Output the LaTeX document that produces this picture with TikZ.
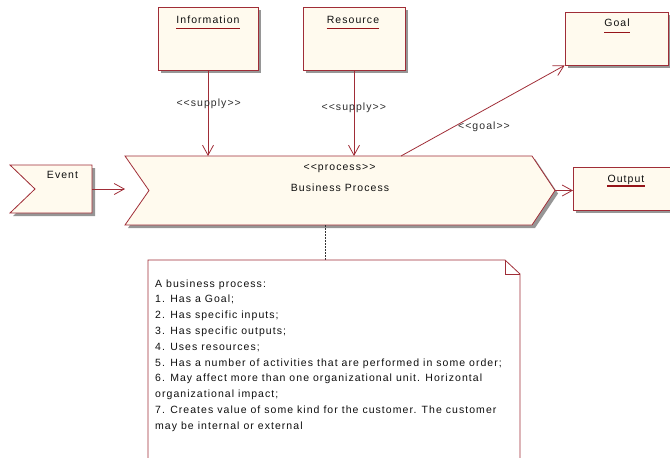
\documentclass[tikz,border=0pt]{standalone}
\usepackage{fontspec}
\setmainfont{Liberation Sans}[LetterSpace=10]
\usetikzlibrary{arrows.meta,shadows}
\definecolor{bord}{RGB}{160,45,55}
\definecolor{cream}{RGB}{255,250,238}
\definecolor{shad}{RGB}{150,150,150}
\definecolor{txt}{RGB}{15,15,15}
\definecolor{lblc}{RGB}{45,45,45}
\definecolor{ulc}{RGB}{150,20,25}
\begin{document}
\begin{tikzpicture}[x=1pt,y=-1pt,
  box/.style={draw=bord, fill=cream, line width=0.8pt, inner sep=0pt,
    drop shadow={shadow xshift=3pt, shadow yshift=-3pt, fill=shad, opacity=1}},
  chev/.style={draw=bord, fill=cream, line width=0.8pt, line join=miter},
  ghost/.style={inner sep=0pt, outer sep=0pt},
  ttl/.style={inner sep=0pt, font=\fontsize{10.5}{12}\selectfont, text=txt},
  lbl/.style={inner sep=0pt, font=\fontsize{10.5}{12}\selectfont, text=lblc},
  ul/.style={draw=ulc, line width=1.1pt},
  conn/.style={draw=bord, line width=0.8pt, -{Straight Barb[length=10pt,width=11pt]}},
  dotline/.style={draw=black!80, line width=0.8pt, dash pattern=on 2pt off 1pt},
  notetext/.style={inner sep=0pt, align=left, text=txt, font=\fontsize{10.5}{15.8}\selectfont}
]
\useasboundingbox (0,0) rectangle (670,458);
\clip (0,0) rectangle (670,458);

% boxes
\node[box, minimum width=100pt, minimum height=63pt] (info) at (208,38.5) {};
\node[box, minimum width=102pt, minimum height=63pt] (res) at (354,38.5) {};
\node[box, minimum width=103pt, minimum height=53pt] (goal) at (616.5,38.5) {};
\node[box, minimum width=110pt, minimum height=43pt, anchor=north west] (out) at (573,167) {};

% event shape
\fill[shad, shift={(3,3)}] (10,165) -- (92,165) -- (92,213) -- (10,213) -- (35,189) -- cycle;
\draw[chev] (10,165) -- (92,165) -- (92,213) -- (10,213) -- (35,189) -- cycle;
\node[ghost, minimum width=82pt, minimum height=48pt] (ev) at (51,189) {};

% process shape
\fill[shad, shift={(3,3)}] (125,156) -- (532,156) -- (555,190.5) -- (532,225) -- (125,225) -- (149,190.5) -- cycle;
\draw[chev] (125,156) -- (532,156) -- (555,190.5) -- (532,225) -- (125,225) -- (149,190.5) -- cycle;
\node[ghost, minimum width=430pt, minimum height=69pt] (proc) at (340,190.5) {};

% titles
\node[ttl, anchor=base] (infoT) at (208,23) {Information};
\draw[ul] ([yshift=-5.3pt]infoT.base west) -- ([yshift=-5.3pt]infoT.base east);
\node[ttl, anchor=base] (resT) at (353,23.3) {Resource};
\draw[ul] ([yshift=-5pt]resT.base west) -- ([yshift=-5pt]resT.base east);
\node[ttl, anchor=base] (goalT) at (617,26.5) {Goal};
\draw[ul] ([yshift=-6pt]goalT.base west) -- ([yshift=-6pt]goalT.base east);
\node[ttl, anchor=base] (outT) at (626,182) {Output};
\draw[ul] ([yshift=-4pt]outT.base west) -- ([yshift=-4pt]outT.base east);
\node[ttl, anchor=base] (evT) at (62.5,178.3) {Event};
\node[ttl, anchor=base] (procS) at (339.5,170) {<{}<process>{}>};
\node[ttl, anchor=base] (procT) at (340,191.7) {Business Process};

% connectors
\draw[conn] (info.south) -- (info.south |- proc.north);
\draw[conn] (res.south) -- (res.south |- proc.north);
\draw[conn] ([xshift=61pt]proc.north) -- (goal.south west);
\draw[conn] (ev.east) -- (ev.east -| proc.west);
\draw[conn] (proc.east) -- (proc.east -| out.west);

\node[lbl, anchor=base] (sup1) at (208.7,106.7) {<{}<supply>{}>};
\node[lbl, anchor=base] (sup2) at (353.8,110) {<{}<supply>{}>};
\node[lbl, anchor=base] (goalL) at (484,129.5) {<{}<goal>{}>};

% note
\coordinate (notetop) at (325,260);
\draw[dotline] ([xshift=-15pt]proc.south) -- (notetop);
\draw[draw=bord, line width=0.8pt, fill=white] (148,462) -- (148,260) -- (505,260) -- (520,274) -- (520,462);
\draw[draw=bord, line width=0.8pt] (505,260) -- (505,274) -- (520,274);
\node[notetext, anchor=north west] (notetxt) at (155,279.2) {A business process:\\
1. Has a Goal;\\
2. Has specific inputs;\\
3. Has specific outputs;\\
4. Uses resources;\\
5. Has a number of activities that are performed in some order;\\
6. May affect more than one organizational unit. Horizontal\\
organizational impact;\\
7. Creates value of some kind for the customer. The customer\\
may be internal or external};
\end{tikzpicture}
\end{document}
